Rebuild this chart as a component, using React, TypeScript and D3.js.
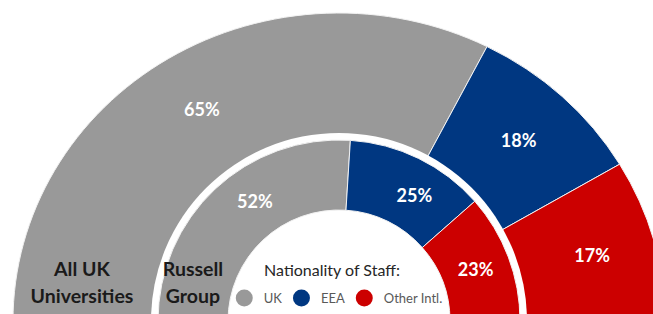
import React, { useEffect, useRef } from "react";
import * as d3 from "d3";

const categories = ["UK", "EEA", "Other Intl."];
const allUkValues = [65, 18, 17];
const russellValues = [52, 25, 23];
const ringLabels = [["All UK", "Universities"], ["Russell", "Group"]];
const legendTitle = "Nationality of Staff:";
const palette = ["#999999", "#003781", "#cc0000"];

const W = 653;
const H = 314;
const cx = 339;
const cy = 321;
const outerRy = 308;
const outerRx = 326;
const gapR = 188;
const innerOuterR = 181;
const innerInnerR = 111;
const FONT = "Lato, 'Open Sans', sans-serif";
// small angular nudges (degrees) of inner-ring value labels, as in the original placement
const innerLabelNudge = [8, 5, 0];

export default function App() {
  const ref = useRef<SVGSVGElement>(null);
  useEffect(() => {
    const svg = d3.select(ref.current);
    svg.selectAll("*").remove();
    const pie = d3
      .pie<number>()
      .sort(null)
      .value((d) => d)
      .startAngle(-Math.PI / 2)
      .endAngle(Math.PI / 2);
    const sx = outerRx / outerRy;

    // Outer ring (All UK Universities)
    const outerData = pie(allUkValues);
    const outerArc = d3.arc<d3.PieArcDatum<number>>().innerRadius(0).outerRadius(outerRy);
    const outerG = svg.append("g").attr("transform", `translate(${cx},${cy}) scale(${sx},1)`);
    outerG
      .selectAll("path")
      .data(outerData)
      .join("path")
      .attr("d", outerArc as any)
      .attr("fill", (_d, i) => palette[i])
      .attr("stroke", "#f2f2f2")
      .attr("stroke-width", 1)
      .attr("vector-effect", "non-scaling-stroke");

    // white gap
    svg.append("circle").attr("cx", cx).attr("cy", cy).attr("r", gapR).attr("fill", "#fff");

    // Inner ring (Russell Group)
    const innerData = pie(russellValues);
    const innerArc = d3
      .arc<d3.PieArcDatum<number>>()
      .innerRadius(innerInnerR)
      .outerRadius(innerOuterR);
    const innerG = svg.append("g").attr("transform", `translate(${cx},${cy})`);
    innerG
      .selectAll("path")
      .data(innerData)
      .join("path")
      .attr("d", innerArc as any)
      .attr("fill", (_d, i) => palette[i])
      .attr("stroke", "#f2f2f2")
      .attr("stroke-width", 1);

    // Value labels
    const outerLabelArc = d3.arc<d3.PieArcDatum<number>>().innerRadius(gapR).outerRadius(outerRy);
    svg
      .append("g")
      .selectAll("text")
      .data(outerData)
      .join("text")
      .attr("x", (d) => cx + outerLabelArc.centroid(d)[0] * sx)
      .attr("y", (d) => cy + outerLabelArc.centroid(d)[1])
      .attr("dy", "0.36em")
      .attr("text-anchor", "middle")
      .attr("font-family", FONT)
      .attr("font-weight", 700)
      .attr("font-size", 18)
      .attr("fill", "#fff")
      .text((d) => `${d.data}%`);

    const midR = (innerInnerR + innerOuterR) / 2;
    const innerPos = innerData.map((d, i) => {
      const a = (d.startAngle + d.endAngle) / 2 + (innerLabelNudge[i] * Math.PI) / 180;
      return [cx + midR * Math.sin(a), cy - midR * Math.cos(a)];
    });
    svg
      .append("g")
      .selectAll("text")
      .data(innerData)
      .join("text")
      .attr("x", (_d, i) => innerPos[i][0])
      .attr("y", (_d, i) => innerPos[i][1])
      .attr("dy", "0.36em")
      .attr("text-anchor", "middle")
      .attr("font-family", FONT)
      .attr("font-weight", 700)
      .attr("font-size", 18)
      .attr("fill", "#fff")
      .text((d) => `${d.data}%`);

    // Ring names
    const ringCenters = [cx - (outerRx + gapR) / 2, cx - (innerOuterR + innerInnerR) / 2];
    ringLabels.forEach((lines, i) => {
      const t = svg
        .append("text")
        .attr("text-anchor", "middle")
        .attr("font-family", FONT)
        .attr("font-weight", 700)
        .attr("font-size", 19.5)
        .attr("fill", "#1a1a1a");
      lines.forEach((ln, j) => {
        t.append("tspan")
          .attr("x", ringCenters[i])
          .attr("y", cy - 52 + j * 27)
          .attr("dy", "0.36em")
          .text(ln);
      });
    });

    // Legend
    svg
      .append("text")
      .attr("x", cx - 7)
      .attr("y", cy - 51)
      .attr("dy", "0.36em")
      .attr("text-anchor", "middle")
      .attr("font-family", FONT)
      .attr("font-size", 16)
      .attr("fill", "#262626")
      .text(legendTitle);

    const legendG = svg.append("g");
    const dotR = 8.5;
    const gap = 11;
    let x = 0;
    categories.forEach((c, i) => {
      legendG.append("circle").attr("cx", x + dotR).attr("cy", 0).attr("r", dotR).attr("fill", palette[i]);
      const t = legendG
        .append("text")
        .attr("x", x + dotR * 2 + 11)
        .attr("y", 0)
        .attr("dy", "0.36em")
        .attr("font-family", FONT)
        .attr("font-size", 13)
        .attr("fill", "#595959")
        .text(c);
      const w = (t.node() as SVGTextElement).getComputedTextLength();
      x += dotR * 2 + 11 + w + gap;
    });
    const totalW = x - gap;
    legendG.attr("transform", `translate(${cx - totalW / 2},${cy - 23})`);
  }, []);

  return (
    <svg
      ref={ref}
      width={W}
      height={H}
      style={{ position: "absolute", left: 0, top: 0, display: "block" }}
    />
  );
}
